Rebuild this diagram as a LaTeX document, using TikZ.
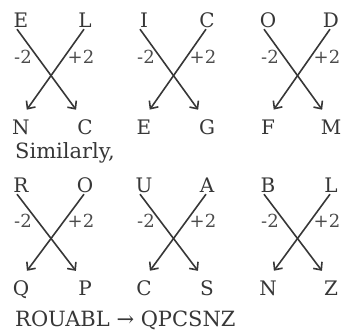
\documentclass[tikz,border=0pt]{standalone}
\usepackage{fontspec}
\setmainfont{DejaVu Serif}
\usepackage{tikz}
\usetikzlibrary{arrows.meta,calc}
\definecolor{ink}{RGB}{55,55,55}
\definecolor{lblgray}{RGB}{75,75,75}
\tikzset{
  letter/.style={inner sep=2pt, text=ink, font=\fontsize{20}{20}\selectfont, text height=14pt, text depth=0pt},
  lbl/.style={inner sep=0pt, text=lblgray, font=\fontsize{18}{18}\selectfont, text height=13pt, text depth=0pt},
  caption/.style={anchor=base west, inner sep=0pt, text=ink, font=\fontsize{21}{21}\selectfont},
  arr/.style={-{Straight Barb[length=6pt,width=11pt,line width=1.6pt]}, ink, line width=1.6pt, shorten >=10pt},
}

\begin{document}
\begin{tikzpicture}[x=1pt,y=-1pt]
  \useasboundingbox (0,0) rectangle (341,335);
  % six crossings, top row and bottom row
  \foreach \ta/\tb/\ba/\bb/\xl/\xr/\yt/\yb [count=\k] in {
      E/L/N/C/21/85/20/127, I/C/E/G/144/207/20/127, O/D/F/M/268/331/20/127,
      R/O/Q/P/21/85/185/288, U/A/C/S/144/207/185/288, B/L/N/Z/268/331/185/288} {
    \node[letter] (tl\k) at (\xl,\yt) {\ta};
    \node[letter] (tr\k) at (\xr,\yt) {\tb};
    \node[letter] (bl\k) at (\xl,\yb) {\ba};
    \node[letter] (br\k) at (\xr,\yb) {\bb};
    \node[lbl] (mn\k) at ($(tl\k)!0.35!(bl\k)+(2,0)$) {-2};
    \node[lbl] (pl\k) at ($(tr\k)!0.35!(br\k)+(-4,0)$) {+2};
    \draw[arr] ([xshift=-4pt]tl\k.south) -- ([xshift=-3pt]br\k.north);
    \draw[arr] ([xshift=-1pt]tr\k.south) -- (bl\k.north);
  }
  \node[caption] (sim) at (15,158) {Similarly,};
  \node[caption] (res) at (15,326) {ROUABL → QPCSNZ};
\end{tikzpicture}
\end{document}
